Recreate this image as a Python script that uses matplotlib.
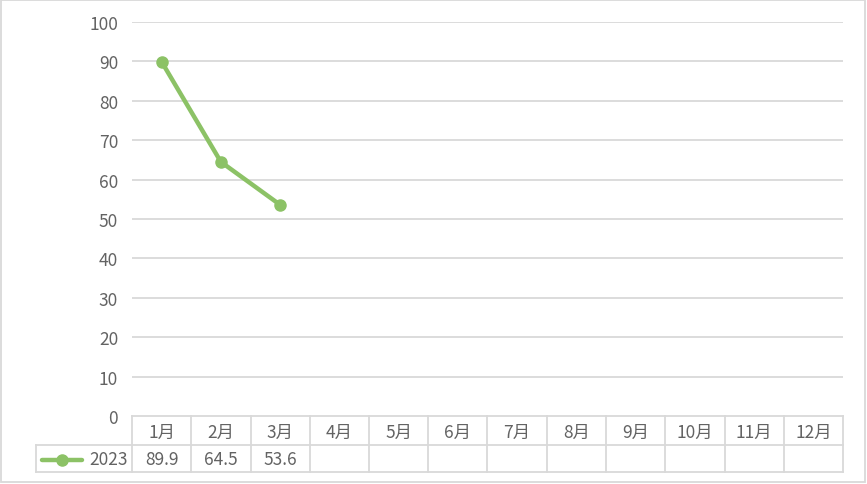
import matplotlib
matplotlib.use("Agg")
import matplotlib.pyplot as plt
from matplotlib.lines import Line2D
from matplotlib.patches import Rectangle

plt.rcParams['font.family'] = ['Noto Sans CJK SC', 'DejaVu Sans']

categories = ['1月', '2月', '3月', '4月', '5月', '6月', '7月', '8月', '9月', '10月', '11月', '12月']
series_name = '2023'
values = [89.9, 64.5, 53.6]
yticks = [0, 10, 20, 30, 40, 50, 60, 70, 80, 90, 100]

W, H = 867, 485
fig = plt.figure(figsize=(W / 100, H / 100), dpi=100)
fig.patch.set_facecolor('white')

def fx(px):
    return px / W

def fy(py):
    return 1 - py / H

left, right, top, bottom = 132, 843, 23, 417
ax = fig.add_axes([fx(left), fy(bottom), fx(right) - fx(left), fy(top) - fy(bottom)])

grid_c = '#d9d9d9'
text_c = '#636363'
line_c = '#8cc266'
fs = 12.5

ax.set_xlim(-0.5, len(categories) - 0.5)
ax.set_ylim(0, 100)
ax.set_yticks(yticks)
ax.set_yticklabels([str(v) for v in yticks])
ax.tick_params(axis='y', length=0, pad=10, labelsize=fs, labelcolor=text_c)
ax.tick_params(axis='x', length=0, labelbottom=False)
for s in ax.spines.values():
    s.set_visible(False)
for v in yticks[1:]:
    ax.axhline(v, color=grid_c, lw=1.3, zorder=1)

x = list(range(len(values)))
ax.plot(x, values, color=line_c, lw=3.2, marker='o', ms=8, zorder=3,
        solid_capstyle='round', clip_on=False)

# data table
row1_top, row1_bot, row2_bot = 417, 446, 473
tab_left = 36
ncat = len(categories)
cw = (right - left) / ncat
lw_t = 1.3
fig.add_artist(Line2D([fx(left), fx(right)], [fy(row1_top)] * 2, color=grid_c, lw=lw_t))
fig.add_artist(Line2D([fx(tab_left), fx(right)], [fy(row1_bot)] * 2, color=grid_c, lw=lw_t))
fig.add_artist(Line2D([fx(tab_left), fx(right)], [fy(row2_bot)] * 2, color=grid_c, lw=lw_t))
fig.add_artist(Line2D([fx(tab_left)] * 2, [fy(row1_bot), fy(row2_bot)], color=grid_c, lw=lw_t))
for i in range(ncat + 1):
    xx = left + i * cw
    fig.add_artist(Line2D([fx(xx)] * 2, [fy(row1_top), fy(row2_bot)], color=grid_c, lw=lw_t))
for i, c in enumerate(categories):
    fig.text(fx(left + (i + 0.5) * cw), fy((row1_top + row1_bot) / 2 + 1), c,
             ha='center', va='center', fontsize=fs, color=text_c)
for i, v in enumerate(values):
    fig.text(fx(left + (i + 0.5) * cw), fy((row1_bot + row2_bot) / 2 + 1), f'{v}',
             ha='center', va='center', fontsize=fs, color=text_c)
ym = fy((row1_bot + row2_bot) / 2 + 1)
fig.add_artist(Line2D([fx(42), fx(82)], [ym, ym], color=line_c, lw=3.2, solid_capstyle='round'))
fig.add_artist(Line2D([fx(62)], [ym], color=line_c, marker='o', ms=8, lw=0))
fig.text(fx(128), fy((row1_bot + row2_bot) / 2 + 1), series_name, ha='right', va='center',
         fontsize=fs, color=text_c)

fig.add_artist(Rectangle((fx(1), fy(483)), fx(864), fy(1) - fy(483), fill=False,
                         edgecolor=grid_c, lw=1.3, transform=fig.transFigure))

fig.savefig('out.png', dpi=100, facecolor='white')
